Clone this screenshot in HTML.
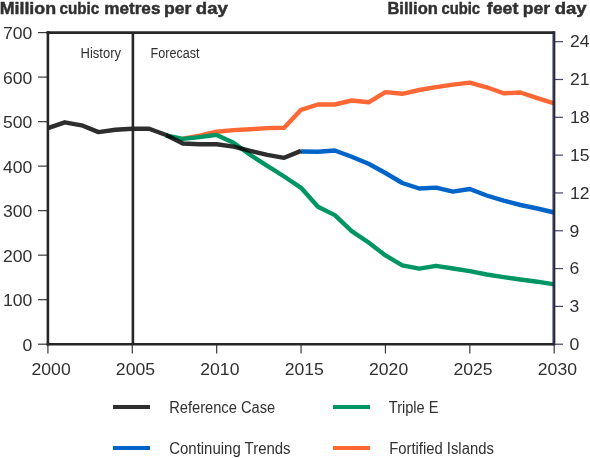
<!DOCTYPE html>
<html><head><meta charset="utf-8"><style>
html,body{margin:0;padding:0;background:#fff;width:590px;height:458px;overflow:hidden}
svg{display:block}
</style></head><body>
<svg width="590" height="458" viewBox="0 0 590 458">
<rect width="590" height="458" fill="#fff"/>
<g stroke="#3a3a3a" fill="none" stroke-width="1.2">
<line x1="38" y1="344.20" x2="47.9" y2="344.20"/>
<line x1="38" y1="299.69" x2="47.9" y2="299.69"/>
<line x1="38" y1="255.17" x2="47.9" y2="255.17"/>
<line x1="38" y1="210.66" x2="47.9" y2="210.66"/>
<line x1="38" y1="166.14" x2="47.9" y2="166.14"/>
<line x1="38" y1="121.63" x2="47.9" y2="121.63"/>
<line x1="38" y1="77.11" x2="47.9" y2="77.11"/>
<line x1="38" y1="32.60" x2="47.9" y2="32.60"/>
<line x1="47.90" y1="344.2" x2="47.90" y2="353.5"/>
<line x1="132.28" y1="344.2" x2="132.28" y2="353.5"/>
<line x1="216.67" y1="344.2" x2="216.67" y2="353.5"/>
<line x1="301.05" y1="344.2" x2="301.05" y2="353.5"/>
<line x1="385.43" y1="344.2" x2="385.43" y2="353.5"/>
<line x1="469.82" y1="344.2" x2="469.82" y2="353.5"/>
<line x1="554.20" y1="344.2" x2="554.20" y2="353.5"/>
</g>
<g stroke="#44446a" fill="none" stroke-width="1.2">
<line x1="554.2" y1="344.20" x2="563" y2="344.20"/>
<line x1="554.2" y1="306.38" x2="563" y2="306.38"/>
<line x1="554.2" y1="268.57" x2="563" y2="268.57"/>
<line x1="554.2" y1="230.75" x2="563" y2="230.75"/>
<line x1="554.2" y1="192.94" x2="563" y2="192.94"/>
<line x1="554.2" y1="155.12" x2="563" y2="155.12"/>
<line x1="554.2" y1="117.31" x2="563" y2="117.31"/>
<line x1="554.2" y1="79.49" x2="563" y2="79.49"/>
<line x1="554.2" y1="41.68" x2="563" y2="41.68"/>
</g>
<g fill="none" stroke-width="4.4" stroke-linejoin="round" stroke-linecap="butt">
<polyline points="182.91,138.60 199.79,135.70 216.67,131.70 233.54,130.10 250.42,129.20 267.30,128.10 284.17,127.70 301.05,109.80 317.93,104.50 334.80,104.50 351.68,100.50 368.56,102.30 385.43,92.10 402.31,93.80 419.19,90.00 436.06,87.20 452.94,84.60 469.82,82.60 486.69,87.30 503.57,93.30 520.45,92.50 537.32,98.10 554.20,103.40" stroke="#ff6834"/>
<polyline points="166.04,135.50 182.91,138.90 199.79,137.10 216.67,134.90 233.54,142.70 250.42,155.00 267.30,165.80 284.17,176.50 301.05,187.80 317.93,206.70 334.80,215.10 351.68,231.10 368.56,242.50 385.43,255.40 402.31,265.30 419.19,268.70 436.06,265.80 452.94,268.50 469.82,271.20 486.69,274.50 503.57,277.10 520.45,279.50 537.32,281.70 554.20,284.30" stroke="#009664"/>
<polyline points="301.05,151.50 317.93,151.70 334.80,150.50 351.68,156.70 368.56,163.70 385.43,173.00 402.31,183.00 419.19,188.50 436.06,187.60 452.94,191.70 469.82,189.00 486.69,195.50 503.57,200.70 520.45,205.00 537.32,208.50 554.20,212.50" stroke="#0064c8"/>
<polyline points="47.90,128.20 64.78,122.30 81.65,125.30 98.53,132.10 115.41,129.80 132.28,128.70 149.16,128.70 166.04,135.00 182.91,143.50 199.79,144.30 216.67,144.30 233.54,146.60 250.42,150.90 267.30,154.80 284.17,157.80 301.05,150.90" stroke="#2e2e2e" style="mix-blend-mode:multiply"/>
</g>
<g stroke="#272727" stroke-width="2.6" fill="none">
<line x1="47.9" y1="31.3" x2="47.9" y2="345.5"/>
<line x1="46.6" y1="32.6" x2="554.2" y2="32.6"/>
<line x1="46.6" y1="344.2" x2="554.2" y2="344.2"/>
<line x1="132.9" y1="32.6" x2="132.9" y2="344.2"/>
</g>
<line x1="553.2" y1="31.3" x2="553.2" y2="345.2" stroke="#25255a" stroke-width="1.4"/>
<line x1="554.6" y1="31.3" x2="554.6" y2="345.2" stroke="#2a2a2a" stroke-width="1.5"/>
<g font-family="Liberation Sans, sans-serif" fill="#303030" stroke="#303030" stroke-width="0.45" font-weight="bold" font-size="16.5">
<text x="-0.36" y="14.4" textLength="56.45" lengthAdjust="spacingAndGlyphs">Million</text>
<text x="59.59" y="14.4" textLength="39.69" lengthAdjust="spacingAndGlyphs">cubic</text>
<text x="104.18" y="14.4" textLength="56.30" lengthAdjust="spacingAndGlyphs">metres</text>
<text x="164.05" y="14.4" textLength="27.43" lengthAdjust="spacingAndGlyphs">per</text>
<text x="195.75" y="14.4" textLength="32.10" lengthAdjust="spacingAndGlyphs">day</text>
<text x="387.43" y="14.4" textLength="50.47" lengthAdjust="spacingAndGlyphs">Billion</text>
<text x="441.41" y="14.4" textLength="38.66" lengthAdjust="spacingAndGlyphs">cubic</text>
<text x="486.73" y="14.4" textLength="31.71" lengthAdjust="spacingAndGlyphs">feet</text>
<text x="522.65" y="14.4" textLength="27.43" lengthAdjust="spacingAndGlyphs">per</text>
<text x="554.66" y="14.4" textLength="31.99" lengthAdjust="spacingAndGlyphs">day</text>
</g>
<g font-family="Liberation Sans, sans-serif" fill="#303030" font-size="16.5">
<text x="22.40" y="350.70" textLength="9.8" lengthAdjust="spacingAndGlyphs">0</text>
<text x="2.90" y="306.19" textLength="29.3" lengthAdjust="spacingAndGlyphs">100</text>
<text x="2.90" y="261.67" textLength="29.3" lengthAdjust="spacingAndGlyphs">200</text>
<text x="2.90" y="217.16" textLength="29.3" lengthAdjust="spacingAndGlyphs">300</text>
<text x="2.90" y="172.64" textLength="29.3" lengthAdjust="spacingAndGlyphs">400</text>
<text x="2.90" y="128.13" textLength="29.3" lengthAdjust="spacingAndGlyphs">500</text>
<text x="2.90" y="83.61" textLength="29.3" lengthAdjust="spacingAndGlyphs">600</text>
<text x="2.90" y="39.10" textLength="29.3" lengthAdjust="spacingAndGlyphs">700</text>
<text x="569.6" y="350.00" textLength="9.8" lengthAdjust="spacingAndGlyphs">0</text>
<text x="569.6" y="312.18" textLength="9.8" lengthAdjust="spacingAndGlyphs">3</text>
<text x="569.6" y="274.37" textLength="9.8" lengthAdjust="spacingAndGlyphs">6</text>
<text x="569.6" y="236.55" textLength="9.8" lengthAdjust="spacingAndGlyphs">9</text>
<text x="570" y="198.74" textLength="19.5" lengthAdjust="spacingAndGlyphs">12</text>
<text x="570" y="160.92" textLength="19.5" lengthAdjust="spacingAndGlyphs">15</text>
<text x="570" y="123.11" textLength="19.5" lengthAdjust="spacingAndGlyphs">18</text>
<text x="570" y="85.29" textLength="19.5" lengthAdjust="spacingAndGlyphs">21</text>
<text x="570" y="47.48" textLength="19.5" lengthAdjust="spacingAndGlyphs">24</text>
<text x="31.50" y="374.8" textLength="39.2" lengthAdjust="spacingAndGlyphs">2000</text>
<text x="115.88" y="374.8" textLength="39.2" lengthAdjust="spacingAndGlyphs">2005</text>
<text x="200.27" y="374.8" textLength="39.2" lengthAdjust="spacingAndGlyphs">2010</text>
<text x="284.65" y="374.8" textLength="39.2" lengthAdjust="spacingAndGlyphs">2015</text>
<text x="369.03" y="374.8" textLength="39.2" lengthAdjust="spacingAndGlyphs">2020</text>
<text x="453.42" y="374.8" textLength="39.2" lengthAdjust="spacingAndGlyphs">2025</text>
<text x="537.80" y="374.8" textLength="39.2" lengthAdjust="spacingAndGlyphs">2030</text>
</g>
<g font-family="Liberation Sans, sans-serif" fill="#303030" font-size="14">
<text x="80.5" y="57.8" textLength="40.5" lengthAdjust="spacingAndGlyphs">History</text>
<text x="150.5" y="58.0" textLength="49" lengthAdjust="spacingAndGlyphs">Forecast</text>
</g>
<rect x="113" y="405" width="37" height="4" fill="#2e2e2e"/>
<rect x="333" y="405" width="37" height="4" fill="#009664"/>
<rect x="113" y="446" width="37" height="4" fill="#0064c8"/>
<rect x="333" y="446" width="37" height="4" fill="#ff6834"/>
<g font-family="Liberation Sans, sans-serif" fill="#303030" font-size="16">
<text x="169.2" y="412.8" textLength="106" lengthAdjust="spacingAndGlyphs">Reference Case</text>
<text x="388.8" y="412.5" textLength="49.7" lengthAdjust="spacingAndGlyphs">Triple E</text>
<text x="169.2" y="454" textLength="121.4" lengthAdjust="spacingAndGlyphs">Continuing Trends</text>
<text x="389.2" y="454" textLength="104.6" lengthAdjust="spacingAndGlyphs">Fortified Islands</text>
</g>
</svg>
</body></html>
